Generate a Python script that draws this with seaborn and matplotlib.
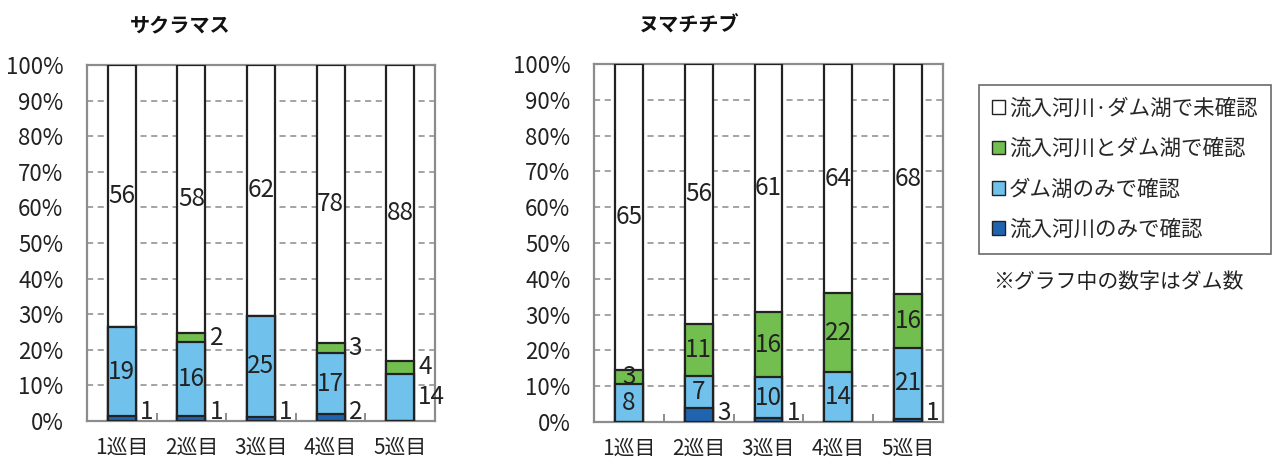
import matplotlib
matplotlib.use("Agg")
import matplotlib.pyplot as plt
import numpy as np
import pandas as pd
import seaborn as sns
from matplotlib.patches import Patch
from matplotlib.ticker import FixedLocator

# --- data: number of dams per survey round -------------------------------
rounds = ["1巡目", "2巡目", "3巡目", "4巡目", "5巡目"]
series_names = ["流入河川のみで確認", "ダム湖のみで確認", "流入河川とダム湖で確認", "流入河川·ダム湖で未確認"]

sakuramasu_river_only = [1, 1, 1, 2, 0]
sakuramasu_lake_only = [19, 16, 25, 17, 14]
sakuramasu_both = [0, 2, 0, 3, 4]
sakuramasu_none = [56, 58, 62, 78, 88]

numachichibu_river_only = [0, 3, 1, 0, 1]
numachichibu_lake_only = [8, 7, 10, 14, 21]
numachichibu_both = [3, 11, 16, 22, 16]
numachichibu_none = [65, 56, 61, 64, 68]

titles = ["サクラマス", "ヌマチチブ"]
note_text = "※グラフ中の数字はダム数"

# --- style ----------------------------------------------------------------
sns.set_theme(style="white")
plt.rcParams["font.family"] = ["Noto Sans CJK JP", "DejaVu Sans"]

colors = ["#2064B0", "#70C2EC", "#72BF50", "#FFFFFF"]
edge = "#222222"
spine_col = "#8C8C8C"
W, H = 1283, 459

fig = plt.figure(figsize=(W / 100, H / 100), dpi=100)

# axes rectangles in pixels: (left, top, right, bottom)
boxes = [(87, 65, 435, 421), (594, 64, 943, 422)]
title_x = [180, 689]

# labels drawn beside the bar instead of inside: (series index, round index)
outside = [
    {(0, 0), (0, 1), (0, 2), (0, 3), (2, 1), (2, 3), (2, 4), (1, 4)},
    {(0, 1), (0, 2), (0, 4)},
]

panels = [
    [sakuramasu_river_only, sakuramasu_lake_only, sakuramasu_both, sakuramasu_none],
    [numachichibu_river_only, numachichibu_lake_only, numachichibu_both, numachichibu_none],
]

bar_w = 0.4
for p, series in enumerate(panels):
    l, t, r, b = boxes[p]
    ax = fig.add_axes([l / W, 1 - b / H, (r - l) / W, (b - t) / H])
    counts = np.array(series, dtype=float)          # shape (4, 5)
    totals = counts.sum(axis=0)
    pct = counts / totals * 100
    cum = np.cumsum(pct, axis=0)

    # draw the tallest cumulative layer first, smaller ones on top
    for k in range(3, -1, -1):
        df = pd.DataFrame({"round": rounds, "value": cum[k]})
        sns.barplot(data=df, x="round", y="value", color=colors[k], saturation=1,
                    width=bar_w, edgecolor=edge, linewidth=1.6, errorbar=None,
                    ax=ax, zorder=3)

    # value labels
    for k in range(4):
        for i in range(len(rounds)):
            v = int(counts[k, i])
            if v == 0:
                continue
            lo = cum[k, i] - pct[k, i]
            mid = (lo + cum[k, i]) / 2
            if (k, i) in outside[p]:
                ax.text(i + bar_w / 2 + 0.06, max(mid, 2.5), str(v), ha="left",
                        va="center", fontsize=17.5, color="#222222", zorder=5)
            else:
                ax.text(i, mid, str(v), ha="center", va="center",
                        fontsize=17.5, color="#222222", zorder=5)

    ax.set_xlim(-0.5, len(rounds) - 0.5)
    ax.set_ylim(0, 100)
    ax.set_yticks(np.arange(0, 101, 10))
    ax.set_yticklabels([f"{v}%" for v in range(0, 101, 10)])
    ax.set_xlabel("")
    ax.set_ylabel("")
    ax.yaxis.grid(True, linestyle=(0, (4, 3)), color="#8A8A8A", linewidth=1.1, zorder=0)
    ax.xaxis.grid(False)
    ax.set_axisbelow(True)
    for s in ax.spines.values():
        s.set_color(spine_col)
        s.set_linewidth(1.6)
        s.set_visible(True)
    ax.tick_params(axis="y", length=0, pad=17, labelsize=16, colors="#222222")
    ax.tick_params(axis="x", length=0, pad=11, labelsize=15, colors="#222222")
    ax.xaxis.set_minor_locator(FixedLocator(np.arange(0.5, len(rounds) - 0.5, 1)))
    ax.tick_params(axis="x", which="minor", direction="in", length=6,
                   width=1.4, color=spine_col, bottom=True)

    fig.text(title_x[p] / W, 1 - 25 / H, titles[p], ha="center", va="center",
             fontsize=14.5, fontweight="bold", color="#111111")

# legend (top-to-bottom order as stacked visually)
handles = [Patch(facecolor=colors[k], edgecolor=edge, linewidth=1.0, label=series_names[k])
           for k in range(3, -1, -1)]
leg = fig.legend(handles=handles, loc="upper left",
                 bbox_to_anchor=(979 / W, 1 - 85 / H), frameon=True, fancybox=False,
                 handlelength=0.6, handleheight=0.6, handletextpad=0.2,
                 labelspacing=0.85, borderpad=0.6, borderaxespad=0, fontsize=15.5)
leg.get_frame().set_edgecolor("#444444")
leg.get_frame().set_linewidth(1.2)

fig.text(1118 / W, 1 - 282 / H, note_text, ha="center", va="center",
         fontsize=15, color="#222222")

fig.savefig("out.png", dpi=100)
